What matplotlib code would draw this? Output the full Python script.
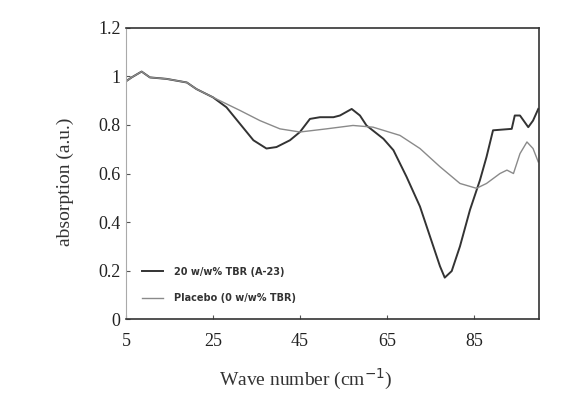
import matplotlib
matplotlib.use("Agg")
import matplotlib.pyplot as plt
import numpy as np

# 20 w/w% TBR (A-23)
x_tbr = [5, 6.3, 8.2, 8.6, 10.5, 14.3, 19, 21.2, 25, 28.1, 31.2, 34.3, 37.3, 39.6,
         42.7, 45, 47.3, 49.6, 52.7, 54.2, 56.9, 58.8, 60.3, 64.2, 66.5, 69.5,
         72.6, 74.9, 77.2, 78.3, 79.9, 81.8, 84.1, 86.4, 87.9, 89.4, 93.7, 94.4,
         95.6, 97.5, 98.6, 99.8]
y_tbr = [0.98, 0.996, 1.016, 1.02, 0.996, 0.99, 0.975, 0.948, 0.914, 0.873, 0.805,
         0.737, 0.703, 0.709, 0.737, 0.771, 0.825, 0.832, 0.832, 0.839, 0.866,
         0.839, 0.798, 0.743, 0.696, 0.587, 0.464, 0.341, 0.218, 0.171, 0.198,
         0.30, 0.45, 0.573, 0.668, 0.778, 0.784, 0.839, 0.839, 0.791, 0.818, 0.866]

# Placebo (0 w/w% TBR)
x_pla = [5, 6.3, 8.2, 8.6, 10.5, 14.3, 19, 21.2, 25, 26.6, 31.2, 35.8, 40.4, 45,
         51.1, 57.2, 61.8, 68, 72.6, 77.2, 81.8, 85.6, 87.9, 91, 92.6, 94.1,
         95.6, 97.2, 98.6, 99.8]
y_pla = [0.98, 0.996, 1.016, 1.02, 0.996, 0.99, 0.975, 0.948, 0.914, 0.90, 0.86,
         0.818, 0.784, 0.771, 0.784, 0.798, 0.791, 0.757, 0.703, 0.628, 0.559,
         0.539, 0.559, 0.60, 0.614, 0.60, 0.682, 0.730, 0.703, 0.648]

labels = ["20 w/w% TBR (A-23)", "Placebo (0 w/w% TBR)"]

fig = plt.figure(figsize=(5.86, 3.93), dpi=100)
ax = fig.add_axes([0.215, 0.188, 0.705, 0.741])

ax.plot(x_tbr, y_tbr, color="#333333", lw=1.4, label=labels[0])
ax.plot(x_pla, y_pla, color="#8a8a8a", lw=1.0, label=labels[1])

ax.set_xlim(5, 100)
ax.set_ylim(0, 1.2)
ax.set_xticks([5, 25, 45, 65, 85])
ax.set_yticks([0, 0.2, 0.4, 0.6, 0.8, 1.0, 1.2])
ax.set_yticklabels(["0", "0.2", "0.4", "0.6", "0.8", "1", "1.2"])
ax.tick_params(direction="in", length=3, width=0.8, colors="#555555",
               labelcolor="#222222", labelsize=13)
ax.tick_params(axis="x", pad=10)
ax.tick_params(axis="y", pad=4)
for lab in ax.get_xticklabels() + ax.get_yticklabels():
    lab.set_family("Liberation Serif")

for s in ax.spines.values():
    s.set_color("#333333")
    s.set_linewidth(1.2)
ax.spines["left"].set_color("#aaaaaa")
ax.spines["left"].set_linewidth(0.8)

ax.set_xlabel("Wave number (cm$^{-1}$)", family="Liberation Serif", fontsize=14,
              color="#333333")
ax.set_ylabel("absorption (a.u.)", family="Liberation Serif", fontsize=14,
              color="#333333")
ax.xaxis.set_label_coords(0.436, -0.165)
ax.yaxis.set_label_coords(-0.126, 0.47)

leg = ax.legend(loc="upper left", bbox_to_anchor=(0.039, 0.18), frameon=False,
                prop={"family": "DejaVu Sans", "size": 7, "weight": "bold"},
                handlelength=2.2, labelspacing=1.7, handletextpad=1.1,
                borderpad=0, borderaxespad=0)
for t in leg.get_texts():
    t.set_color("#333333")

fig.savefig("out.png", dpi=100)
